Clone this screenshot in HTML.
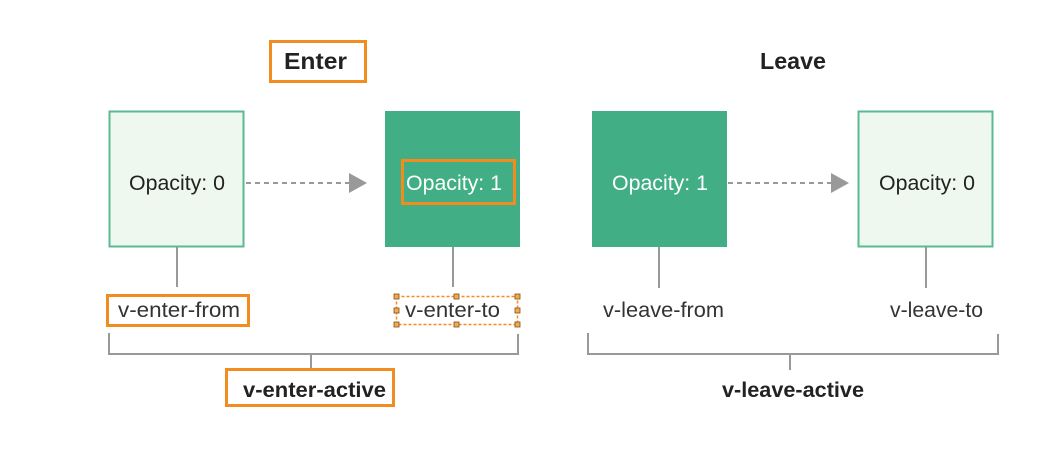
<!DOCTYPE html>
<html><head><style>
body{margin:0;width:1037px;height:447px;background:#fff;overflow:hidden;font-family:"Liberation Sans","DejaVu Sans",sans-serif;}
</style></head><body>
<svg width="1037" height="447" xmlns="http://www.w3.org/2000/svg" font-family="Liberation Sans, DejaVu Sans, sans-serif">
<g fill="none" stroke="#999" stroke-width="2">
<line x1="177" y1="247" x2="177" y2="287"/>
<line x1="453" y1="247" x2="453" y2="287"/>
<line x1="659" y1="247" x2="659" y2="288"/>
<line x1="926" y1="247" x2="926" y2="288"/>
<polyline points="109,333 109,354 518,354 518,334"/>
<line x1="311" y1="354" x2="311" y2="370"/>
<polyline points="588,333 588,354 998,354 998,334"/>
<line x1="790" y1="354" x2="790" y2="370"/>
<line x1="246" y1="183" x2="350" y2="183" stroke-dasharray="5,4"/>
<line x1="728" y1="183" x2="832" y2="183" stroke-dasharray="5,4"/>
</g>
<polygon points="349,173 367,183 349,193" fill="#999"/>
<polygon points="831,173 849,183 831,193" fill="#999"/>
<rect x="109.5" y="111.5" width="134" height="135" fill="#eef8ef" stroke="#5bb993" stroke-width="2"/>
<rect x="385" y="111" width="135" height="136" fill="#41ae86"/>
<rect x="592" y="111" width="135" height="136" fill="#41ae86"/>
<rect x="858.5" y="111.5" width="134" height="135" fill="#eef8ef" stroke="#5bb993" stroke-width="2"/>
<g font-size="21" lengthAdjust="spacingAndGlyphs">
<text x="129" y="190" fill="#222" textLength="96" lengthAdjust="spacingAndGlyphs">Opacity: 0</text>
<text x="406" y="190" fill="#fff" textLength="96" lengthAdjust="spacingAndGlyphs">Opacity: 1</text>
<text x="612" y="190" fill="#fff" textLength="96" lengthAdjust="spacingAndGlyphs">Opacity: 1</text>
<text x="879" y="190" fill="#222" textLength="96" lengthAdjust="spacingAndGlyphs">Opacity: 0</text>
<text x="118" y="317" fill="#333" textLength="122" lengthAdjust="spacingAndGlyphs">v-enter-from</text>
<text x="405" y="317" fill="#333" textLength="95" lengthAdjust="spacingAndGlyphs">v-enter-to</text>
<text x="603" y="317" fill="#333" textLength="121" lengthAdjust="spacingAndGlyphs">v-leave-from</text>
<text x="890" y="317" fill="#333" textLength="93" lengthAdjust="spacingAndGlyphs">v-leave-to</text>
</g>
<g font-size="23" font-weight="bold" fill="#222">
<text x="284" y="69" textLength="63" lengthAdjust="spacingAndGlyphs">Enter</text>
<text x="760" y="69" textLength="66" lengthAdjust="spacingAndGlyphs">Leave</text>
<text x="243" y="397" font-size="21" textLength="143" lengthAdjust="spacingAndGlyphs">v-enter-active</text>
<text x="722" y="397" font-size="21" textLength="142" lengthAdjust="spacingAndGlyphs">v-leave-active</text>
</g>
<g fill="none" stroke="#f28c1e" stroke-width="3">
<rect x="270.5" y="41.5" width="95" height="40"/>
<rect x="402.5" y="160.5" width="112" height="43"/>
<rect x="107.5" y="295.5" width="141" height="30"/>
<rect x="226.5" y="369.5" width="167" height="36"/>
</g>
<rect x="396.5" y="296.5" width="121" height="28" fill="none" stroke="#f28c1e" stroke-width="1.5" stroke-dasharray="3,2"/>
<g fill="#f7a94a" stroke="#7a5020" stroke-width="0.8">
<rect x="394" y="294" width="5" height="5"/><rect x="454" y="294" width="5" height="5"/><rect x="515" y="294" width="5" height="5"/>
<rect x="394" y="308" width="5" height="5"/><rect x="515" y="308" width="5" height="5"/>
<rect x="394" y="322" width="5" height="5"/><rect x="454" y="322" width="5" height="5"/><rect x="515" y="322" width="5" height="5"/>
</g>
</svg>
</body></html>
